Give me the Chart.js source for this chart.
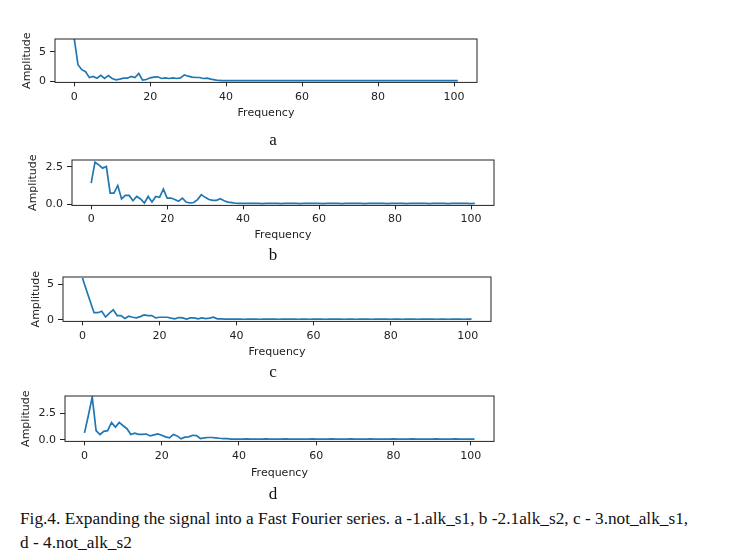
<!DOCTYPE html>
<html>
<head>
<meta charset="utf-8">
<script src="https://cdn.jsdelivr.net/npm/chart.js@4.4.1/dist/chart.umd.min.js"></script>
<style>
  body { margin: 0; background: #fff; }
  #page { position: relative; width: 730px; height: 556px; overflow: hidden; background: #fff;
          font-family: 'Liberation Serif', 'Times New Roman', serif; color: #111; }
  #page canvas { position: absolute; left: 0; }
  .letter { position: absolute; left: 253px; width: 40px; text-align: center; font-size: 17px; line-height: 20px; }
  #caption { position: absolute; left: 20px; top: 507px; font-size: 17.3px; line-height: 24px; white-space: nowrap; }
</style>
</head>
<body>
<div id="page">
  <canvas id="fft-a"></canvas>
  <canvas id="fft-b"></canvas>
  <canvas id="fft-c"></canvas>
  <canvas id="fft-d"></canvas>
  <div class="letter" style="top:130px">a</div>
  <div class="letter" style="top:245px">b</div>
  <div class="letter" style="top:362px">c</div>
  <div class="letter" style="top:484px">d</div>
  <div id="caption">Fig.4. Expanding the signal into a Fast Fourier series. a -1.alk_s1, b -2.1alk_s2, c - 3.not_alk_s1,<br>d - 4.not_alk_s2</div>
</div>
<script>
// frequency bins 0..101
const FREQ_COUNT = 102;
const xTicks = [0, 20, 40, 60, 80, 100];
const yTicksWhole = [0, 5];
const yTicksHalf = [0, 2.5];

// 1.alk_s1
const ampA = [
  7.3, 2.8, 1.95, 1.6, 0.6, 0.8, 0.5, 1.0, 0.45, 0.95,
  0.45, 0.22, 0.34, 0.5, 0.5, 0.8, 0.6, 1.3, 0.17, 0.28,
  0.56, 0.67, 0.73, 0.45, 0.56, 0.45, 0.56, 0.45, 0.56, 1.07,
  0.84, 0.67, 0.62, 0.62, 0.45, 0.5, 0.34, 0.22, 0.11,
  0.08, 0.07, 0.08, 0.09, 0.08, 0.07, 0.08, 0.08, 0.07, 0.08,
  0.09, 0.08, 0.07, 0.08, 0.08, 0.07, 0.08, 0.09, 0.08, 0.08,
  0.07, 0.08, 0.08, 0.09, 0.08, 0.07, 0.08, 0.08, 0.09, 0.08,
  0.08, 0.07, 0.08, 0.08, 0.09, 0.08, 0.08, 0.07, 0.08, 0.08,
  0.09, 0.08, 0.08, 0.07, 0.08, 0.08, 0.09, 0.08, 0.08, 0.07,
  0.08, 0.08, 0.09, 0.08, 0.08, 0.07, 0.08, 0.08, 0.09, 0.08,
  0.07, 0.08, 0.08
];

// 2.1alk_s2
const ampB = [
  1.41, 2.82, 2.64, 2.42, 2.53, 0.74, 0.74, 1.25, 0.34, 0.58,
  0.58, 0.22, 0.51, 0.34, 0.07, 0.51, 0.13, 0.51, 0.45, 1.0,
  0.4, 0.4, 0.3, 0.18, 0.4, 0.13, 0.07, 0.1, 0.3, 0.63,
  0.45, 0.3, 0.25, 0.25, 0.36, 0.22, 0.13, 0.09, 0.05,
  0.04, 0.05, 0.04, 0.04, 0.05, 0.04, 0.03, 0.04, 0.05, 0.04,
  0.04, 0.03, 0.04, 0.05, 0.04, 0.04, 0.03, 0.04, 0.04, 0.05,
  0.04, 0.04, 0.03, 0.04, 0.05, 0.04, 0.04, 0.03, 0.04, 0.04,
  0.05, 0.04, 0.04, 0.03, 0.04, 0.04, 0.05, 0.04, 0.04, 0.03,
  0.04, 0.05, 0.04, 0.04, 0.03, 0.04, 0.04, 0.05, 0.04, 0.04,
  0.03, 0.04, 0.04, 0.05, 0.04, 0.03, 0.04, 0.04, 0.05, 0.04,
  0.04, 0.03, 0.04
];

// 3.not_alk_s1
const ampC = [
  5.86, 4.2, 2.6, 1.0, 1.0, 1.2, 0.4, 0.95, 1.4, 0.6,
  0.6, 0.18, 0.5, 0.36, 0.27, 0.45, 0.68, 0.6, 0.6, 0.27,
  0.36, 0.36, 0.36, 0.23, 0.14, 0.32, 0.27, 0.1, 0.27, 0.27,
  0.14, 0.27, 0.18, 0.23, 0.36, 0.14, 0.12, 0.1, 0.1,
  0.09, 0.1, 0.09, 0.08, 0.09, 0.1, 0.09, 0.08, 0.09, 0.09,
  0.1, 0.09, 0.08, 0.09, 0.09, 0.1, 0.09, 0.08, 0.09, 0.09,
  0.08, 0.09, 0.1, 0.09, 0.08, 0.09, 0.09, 0.1, 0.09, 0.08,
  0.09, 0.09, 0.08, 0.09, 0.1, 0.09, 0.08, 0.09, 0.09, 0.1,
  0.09, 0.08, 0.09, 0.09, 0.08, 0.09, 0.1, 0.09, 0.08, 0.09,
  0.09, 0.1, 0.09, 0.08, 0.09, 0.09, 0.08, 0.09, 0.1, 0.09,
  0.08, 0.09, 0.09
];

// 4.not_alk_s2
const ampD = [
  0.65, 2.3, 4.04, 0.86, 0.5, 0.8, 0.86, 1.64, 1.2, 1.64,
  1.33, 1.05, 0.5, 0.62, 0.52, 0.52, 0.55, 0.37, 0.46, 0.55,
  0.43, 0.28, 0.19, 0.5, 0.37, 0.09, 0.25, 0.28, 0.43, 0.4,
  0.12, 0.19, 0.22, 0.22, 0.19, 0.15, 0.12, 0.12, 0.06,
  0.07, 0.06, 0.07, 0.08, 0.07, 0.06, 0.07, 0.07, 0.08, 0.07,
  0.06, 0.07, 0.07, 0.08, 0.07, 0.06, 0.07, 0.07, 0.06, 0.07,
  0.08, 0.07, 0.07, 0.06, 0.07, 0.08, 0.07, 0.06, 0.07, 0.07,
  0.08, 0.07, 0.06, 0.07, 0.07, 0.08, 0.07, 0.07, 0.06, 0.07,
  0.07, 0.08, 0.07, 0.06, 0.07, 0.07, 0.08, 0.07, 0.07, 0.06,
  0.07, 0.07, 0.08, 0.07, 0.06, 0.07, 0.07, 0.08, 0.07, 0.06,
  0.07, 0.07, 0.06
];

// where each plot box sits on the page (px)
const panels = [
  { id: 'fft-a', amp: ampA, yTicks: yTicksWhole, dec: 0, yMin: -0.22, yMax: 7.19,
    box: { left: 55, right: 477, top: 39, bottom: 83 }, ampX: 27, freqY: 114, tickPad: 4 },
  { id: 'fft-b', amp: ampB, yTicks: yTicksHalf, dec: 1, yMin: -0.094, yMax: 2.97,
    box: { left: 72, right: 494, top: 160, bottom: 206 }, ampX: 33, freqY: 236, tickPad: 3.5 },
  { id: 'fft-c', amp: ampC, yTicks: yTicksWhole, dec: 0, yMin: -0.22, yMax: 6.0,
    box: { left: 63, right: 491, top: 277, bottom: 322 }, ampX: 36, freqY: 353, tickPad: 4.5 },
  { id: 'fft-d', amp: ampD, yTicks: yTicksHalf, dec: 1, yMin: -0.15, yMax: 4.14,
    box: { left: 65, right: 494, top: 396, bottom: 442 }, ampX: 26, freqY: 474, tickPad: 4.5 }
];

const INK = '#222';
const tickFont = { family: 'DejaVu Sans', size: 11 };
const HALF_LINE = 6.6; // half of an 11px label line
const PAD_TOP = 14;
const PAD_RIGHT = 16;

const framePlugin = {
  id: 'frame',
  afterDatasetsDraw(chart) {
    const { ctx, chartArea: a } = chart;
    ctx.save();
    ctx.strokeStyle = INK;
    ctx.lineWidth = 1;
    ctx.strokeRect(a.left, a.top, a.right - a.left, a.bottom - a.top);
    ctx.restore();
  }
};

function drawPanel(p) {
  const canvas = document.getElementById(p.id);
  const top = p.box.top - PAD_TOP;
  const padLeft = p.ampX - HALF_LINE;
  const xAxisHeight = p.freqY + HALF_LINE - p.box.bottom;
  const width = p.box.right + PAD_RIGHT;
  const height = p.freqY + HALF_LINE + 3 - top;
  canvas.width = width;
  canvas.height = height;
  canvas.style.top = top + 'px';

  const points = [];
  for (let i = 0; i < FREQ_COUNT; i++) points.push({ x: i, y: p.amp[i] });

  new Chart(canvas.getContext('2d'), {
    type: 'line',
    data: {
      datasets: [{
        data: points,
        borderColor: '#1f77b4',
        borderWidth: 1.7,
        pointRadius: 0,
        tension: 0,
        fill: false
      }]
    },
    options: {
      responsive: false,
      animation: false,
      layout: { padding: { left: padLeft, top: PAD_TOP, right: PAD_RIGHT, bottom: 3 } },
      plugins: { legend: { display: false }, tooltip: { enabled: false } },
      scales: {
        x: {
          type: 'linear',
          min: -5.05,
          max: 106.05,
          afterBuildTicks: s => { s.ticks = xTicks.map(v => ({ value: v })); },
          afterFit: s => { s.height = xAxisHeight; },
          ticks: { color: INK, font: tickFont, padding: p.tickPad, maxRotation: 0 },
          grid: { drawOnChartArea: false, tickLength: 4, color: INK },
          border: { display: false },
          title: { display: true, text: 'Frequency', color: INK, font: tickFont, padding: 0 }
        },
        y: {
          min: p.yMin,
          max: p.yMax,
          afterBuildTicks: s => { s.ticks = p.yTicks.map(v => ({ value: v })); },
          afterFit: s => { s.width = p.box.left - padLeft; },
          ticks: { color: INK, font: tickFont, padding: 4, callback: v => v.toFixed(p.dec) },
          grid: { drawOnChartArea: false, tickLength: 5, color: INK },
          border: { display: false },
          title: { display: true, text: 'Amplitude', color: INK, font: tickFont, padding: 0 }
        }
      }
    },
    plugins: [framePlugin]
  });
}

panels.forEach(drawPanel);
</script>
</body>
</html>
